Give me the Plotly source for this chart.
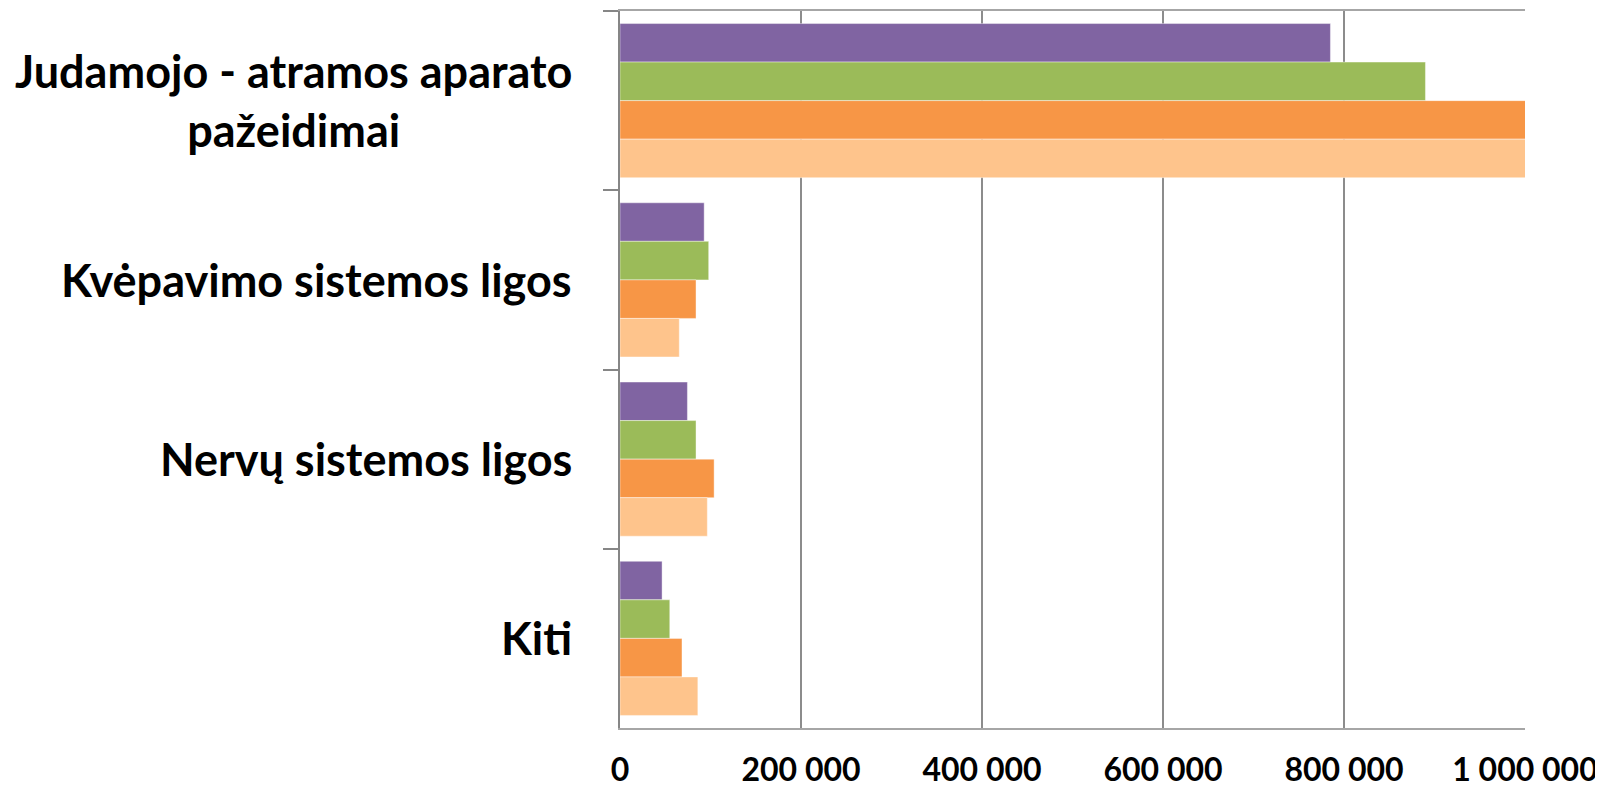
import plotly.graph_objects as go

categories = [
    "Judamojo - atramos aparato<br>pažeidimai",
    "Kvėpavimo sistemos ligos",
    "Nervų sistemos ligos",
    "Kiti",
]
series_names = ["Serija 1", "Serija 2", "Serija 3", "Serija 4"]
series_purple = [785000, 93000, 74500, 46500]
series_green = [890000, 98000, 84000, 55000]
series_orange = [1003000, 84000, 104000, 68500]
series_light = [1001000, 65500, 96500, 86000]
colors = ["#8064A2", "#9BBB59", "#F79646", "#FEC48C"]
tick_values = [0, 200000, 400000, 600000, 800000, 1000000]
tick_labels = ["0", "200 000", "400 000", "600 000", "800 000", "1 000 000"]

FONT = "Lato"

fig = go.Figure()
for name, vals, col in zip(series_names,
                           [series_purple, series_green, series_orange, series_light],
                           colors):
    fig.add_trace(go.Bar(
        y=categories, x=vals, orientation="h", name=name,
        marker=dict(color=col, line=dict(color="rgba(255,255,255,0.7)", width=0.6)),
        showlegend=False,
    ))

for cat in categories:
    fig.add_annotation(
        x=0, xref="paper", y=cat, yref="y", xanchor="right", yanchor="middle",
        xshift=-46, text=cat, showarrow=False, align="center",
        font=dict(family=FONT, size=45, color="#000000", weight="bold"),
    )

fig.update_layout(
    width=1603, height=790,
    margin=dict(l=612, r=86, t=3, b=70, autoexpand=False),
    paper_bgcolor="white", plot_bgcolor="white",
    barmode="group", bargap=0.14, bargroupgap=0,
    font=dict(family=FONT, color="#000000"),
)
fig.update_xaxes(
    range=[0, 1000000], tickvals=tick_values, ticktext=tick_labels,
    showgrid=True, gridcolor="#8c8c8c", gridwidth=1.6,
    showline=True, linecolor="#a6a6a6", linewidth=2, mirror=True,
    zeroline=False, ticks="", ticklabelstandoff=13, automargin=False,
    tickfont=dict(family=FONT, size=32, color="#000000", weight="bold"),
)
fig.update_yaxes(
    autorange="reversed", showticklabels=False, showgrid=False,
    showline=True, linecolor="#868686", linewidth=2, automargin=False,
    ticks="outside", tickson="boundaries", ticklen=15, tickwidth=2, tickcolor="#868686",
    zeroline=False,
)

fig.write_html("out.html")
